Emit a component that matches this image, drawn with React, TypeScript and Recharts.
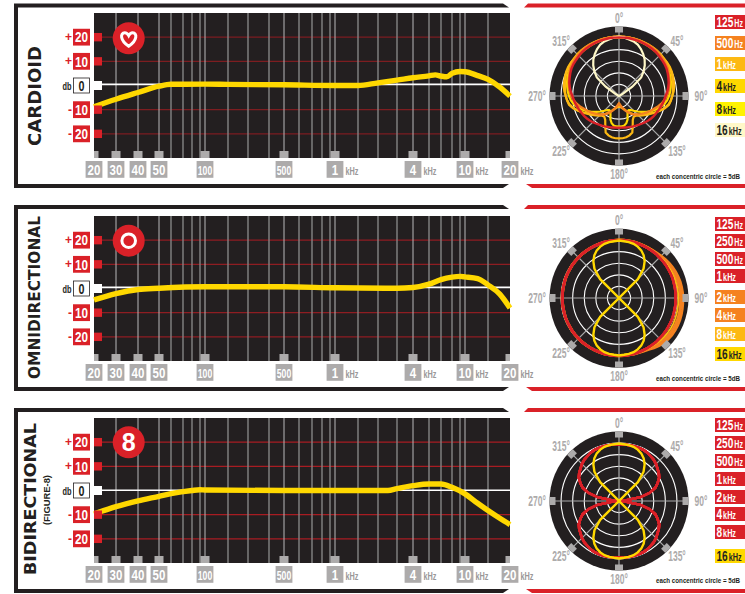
import { LineChart, Line, XAxis, YAxis, ReferenceLine, RadarChart, Radar, PolarGrid, PolarAngleAxis, PolarRadiusAxis } from 'recharts';

const FONT = '"Liberation Sans", sans-serif';
const RED = '#DA2128';
const ORANGE = '#F58220';
const GOLD = '#FDB913';
const YELLOW = '#FFD800';
const LEMON = '#FFF200';
const CREAM = '#FFF8C8';
const GRAY = '#ADABAB';
const DARK = '#231F20';

// frequency axis of the artwork is hand drawn, so hz -> axis units goes through this table
const scaleHz = [20, 30, 40, 50, 60, 70, 80, 90, 100, 200, 300, 400, 500, 600, 700, 800, 900, 1000, 2000, 2500, 3000, 4000, 5000, 6000, 7000, 8000, 10000, 15000, 20000];
const scaleAt = [94, 116, 138, 159, 171, 183, 192, 200, 205, 228, 248, 269, 284, 299, 312, 322, 330, 335, 358, 378, 397, 413, 429, 441, 452, 460, 465, 488, 510];
const labelledHz = [20, 30, 40, 50, 100, 500, 1000, 4000, 10000, 20000];
const tickText = ['20', '30', '40', '50', '100', '500', '1', '4', '10', '20'];
const dbTicks = [20, 10, 0, -10, -20];

const cardioidHz = [20, 30, 40, 50, 60, 100, 200, 500, 1000, 2000, 2500, 3000, 4000, 5000, 5500, 6000, 6500, 7000, 8000, 10000, 12500, 15000, 17500, 20000];
const cardioidDb = [-8.8, -5.7, -2.9, -0.3, 0.5, 0.55, 0.45, 0.3, 0, 0, 1.1, 2.2, 3.2, 4, 4.4, 3.9, 3.6, 5, 5.8, 5.7, 4.1, 2.5, -0.7, -4.4];
const omniHz = [20, 30, 40, 50, 100, 500, 1000, 3000, 4000, 5000, 6000, 7000, 8000, 10000, 12500, 15000, 17500, 20000];
const omniDb = [-4.7, -2.1, -0.4, 0.1, 0.7, 0.7, 0.3, 0.1, 0.4, 1.8, 3.7, 4.7, 5, 4.8, 4.1, 1.5, -2.3, -8.1];
const bidirHz = [20, 30, 40, 50, 60, 80, 90, 100, 500, 2000, 2750, 3000, 4000, 5000, 6000, 7000, 10000, 12500, 15000, 17500, 20000];
const bidirDb = [-9.7, -6.7, -4.3, -2.4, -1.3, 0, 0.3, 0.2, 0, 0, 0, 0.8, 2, 2.7, 2.7, 1.3, -1.4, -5.3, -8.3, -11.5, -14.1];

// polar patterns, dB from centre, 0-180 degrees every 5 degrees on the right hand side
const card125 = [25.3, 25.3, 25.3, 25.2, 25.2, 25.1, 25, 24.9, 24.8, 24.5, 24.2, 24, 23.7, 23.2, 22.7, 22.2, 21.6, 20.9, 20.1, 19.6, 19.1, 18.6, 18.1, 17.7, 17.3, 16.9, 16.5, 16, 15.5, 15.1, 14.8, 14.5, 14.2, 14, 13.8, 13.7, 13.7];
const card500 = [25.6, 25.6, 25.6, 25.6, 25.6, 25.5, 25.5, 25.4, 25.3, 25.1, 24.8, 24.5, 24.2, 23.6, 23, 22.5, 21.9, 21.3, 20.6, 19.7, 18.7, 17.4, 16.1, 15.1, 14.1, 13.1, 12.2, 11.3, 10.4, 9.4, 8.3, 7.2, 6, 5.1, 4.3, 3.6, 3.2];
const card1k = [25.6, 25.6, 25.6, 25.6, 25.6, 25.6, 25.6, 25.6, 25.6, 25.5, 25.3, 25.2, 25, 24.8, 24.5, 24.1, 23.7, 23.4, 23, 22.5, 21.9, 20.5, 18.7, 16.9, 15.1, 13.9, 12.7, 11.5, 10.4, 9.1, 7.9, 6.9, 6, 5.5, 5, 4.7, 4.6];
const card4k = [25.6, 25.6, 25.6, 25.6, 25.5, 25.4, 25.3, 25.3, 25.2, 25.2, 25.2, 25.3, 25.3, 25.1, 24.8, 24.5, 24.2, 23.7, 23, 22.4, 21.6, 20.3, 18.7, 17.1, 15.4, 14.2, 13, 12, 11.1, 11, 11.9, 14, 16.8, 17.6, 18.1, 18.3, 18.3];
const card8k = [25.3, 25.3, 25.2, 25.2, 25.2, 25.1, 25, 24.9, 24.8, 24.7, 24.5, 24.4, 24.2, 24, 23.7, 23.2, 22.7, 22.2, 21.6, 20.9, 19.9, 18.6, 17, 15.4, 13.7, 12, 10.4, 9, 7.9, 7.4, 7.5, 8.7, 10.8, 12.2, 13, 13.2, 13.2];
const card16k = [25.6, 25.4, 24.8, 24.4, 23.6, 22.4, 20.9, 19.3, 17.3, 15, 12.5, 7, 2, 0.5, 0, 0, 0, 0, 0, 0, 0, 0, 0, 0, 0, 0, 0, 0, 0, 0, 0, 0, 0, 0, 0, 0, 0];

const omniRed = [24.9, 24.9, 24.9, 24.9, 24.9, 24.8, 24.8, 24.8, 24.8, 24.7, 24.7, 24.7, 24.6, 24.6, 24.6, 24.5, 24.5, 24.5, 24.5, 24.5, 24.5, 24.5, 24.6, 24.6, 24.6, 24.7, 24.7, 24.7, 24.8, 24.8, 24.8, 24.8, 24.9, 24.9, 24.9, 24.9, 24.9];
const omni2k = [25, 25, 25, 25, 25, 25, 25, 25.1, 25.3, 25.6, 26, 26.3, 26.6, 26.9, 27.1, 27.3, 27.4, 27.5, 27.5, 27.6, 27.7, 27.8, 27.9, 27.9, 27.9, 27.8, 27.6, 27.3, 26.8, 26.2, 25.6, 25.3, 25.1, 25, 24.9, 24.9, 24.9];
const omni4k = [25, 25, 25, 25, 25, 25, 25, 25, 25.1, 25.3, 25.5, 25.8, 26, 26.2, 26.3, 26.4, 26.5, 26.6, 26.6, 26.7, 26.8, 26.9, 26.9, 26.9, 26.9, 26.8, 26.6, 26.4, 26, 25.6, 25.2, 25, 25, 24.9, 24.9, 24.9, 24.9];
const omni8k = [24.9, 24.9, 24.9, 24.9, 24.9, 24.9, 24.9, 24.9, 25, 25, 25.1, 25.2, 25.3, 25.4, 25.5, 25.5, 25.6, 25.6, 25.6, 25.7, 25.7, 25.8, 25.8, 25.9, 25.9, 25.8, 25.7, 25.6, 25.4, 25.2, 25, 24.9, 24.9, 24.9, 24.9, 24.9, 24.9];
const figure16k = [24.8, 24.6, 24.5, 24.2, 23.6, 22.7, 21.3, 19.3, 16.5, 11.5, 0, 0, 0, 0, 0, 0, 0, 0, 0, 0, 0, 0, 0, 0, 0, 0, 0, 11.5, 16.5, 19.3, 21.3, 22.7, 23.6, 24.2, 24.5, 24.6, 24.8];
const figureRed = [24.5, 24.5, 24.5, 24.5, 24.5, 24.5, 24.2, 23.7, 23.3, 22.6, 21.7, 21, 20, 18.4, 16.7, 13.7, 9.4, 2.2, 0.6, 2.2, 9.4, 13.7, 16.7, 18.4, 20, 21, 21.7, 22.6, 23.3, 23.7, 24.2, 24.5, 24.5, 24.5, 24.5, 24.5, 24.3];

const cardioidLegend = ['125|Hz', '500|Hz', '1|kHz', '4|kHz', '8|kHz', '16|kHz'];
const cardioidSwatch = [RED, ORANGE, GOLD, YELLOW, LEMON, CREAM];
const cardioidLegendTop = [15, 36, 57, 79, 102, 123];
const omniLegend = ['125|Hz', '250|Hz', '500|Hz', '1|kHz', '2|kHz', '4|kHz', '8|kHz', '16|kHz'];
const omniSwatch = [RED, RED, RED, RED, ORANGE, ORANGE, GOLD, YELLOW];
const omniLegendTop = [217, 234, 252, 269, 290, 308, 327, 347];
const bidirSwatch = [RED, RED, RED, RED, RED, RED, RED, YELLOW];
const bidirLegendTop = [418, 436, 454, 472, 490, 507, 525, 549];
const angleLabels = [0, 45, 90, 135, 180, 225, 270, 315];

const hzToAxis = (hz: number) => {
  const i = scaleHz.findIndex((h) => h >= hz);
  if (i <= 0) return scaleAt[0];
  const t = Math.log(hz / scaleHz[i - 1]) / Math.log(scaleHz[i] / scaleHz[i - 1]);
  return scaleAt[i - 1] + t * (scaleAt[i] - scaleAt[i - 1]);
};

const mirror = (half: number[]) => [...half, ...half.slice(1, -1).reverse()];

// no condensed face is installed, so squeeze the bold one to the measured width
function Narrow({ width, children, ...rest }: any) {
  return (
    <text fontFamily={FONT} fontWeight="bold" textLength={width} lengthAdjust="spacingAndGlyphs" {...rest}>
      {children}
    </text>
  );
}

function ResponseChart({ top, hz, db, grid, zero }: { top: number; hz: number[]; db: number[]; grid: string; zero: number }) {
  const data = hz.map((h, i) => ({ pos: hzToAxis(h), db: db[i] }));
  const lines = scaleHz.slice(1, -1);
  const xTick = ({ payload }: any) => {
    const i = labelledHz.findIndex((h) => Math.abs(hzToAxis(h) - payload.value) < 0.01);
    const x = payload.value;
    const tabL = Math.max(94, x - 4.5);
    const tabR = Math.min(510, x + 4.5);
    const label = tickText[i];
    return (
      <g>
        <rect x={tabL} y={151} width={tabR - tabL} height={7} fill={GRAY} />
        <rect x={x - 8.4} y={161} width={16.8} height={16.8} fill={GRAY} />
        <Narrow x={x} y={174.6} textAnchor="middle" width={label.length > 2 ? 14.4 : label.length * 6.4} fontSize={label.length > 2 ? 13 : 15} fill="#fff">{label}</Narrow>
        {labelledHz[i] >= 1000 && <Narrow x={x + 10.5} y={174.5} width={13} fontSize={10} fill="#9a9898">kHz</Narrow>}
      </g>
    );
  };
  const yTick = ({ payload, y }: any) => {
    const v = payload.value;
    if (v === 0) {
      return (
        <g>
          <rect x={94} y={y - 4.5} width={8} height={9} fill="#fff" />
          <Narrow x={71.5} y={y + 4} textAnchor="end" width={9} fontSize={11.5} fill={DARK}>db</Narrow>
          <rect x={73.5} y={y - 7.5} width={16} height={15} fill="#fff" stroke={DARK} strokeWidth={0.8} />
          <Narrow x={81.5} y={y + 5} textAnchor="middle" width={6} fontSize={14.5} fill={DARK}>0</Narrow>
        </g>
      );
    }
    return (
      <g>
        <rect x={94} y={y - 4.2} width={8} height={8.4} fill={RED} />
        <text x={72} y={y + 4} textAnchor="end" fontFamily={FONT} fontWeight="bold" fontSize={12} fill={RED}>{v > 0 ? '+' : '-'}</text>
        <rect x={73} y={y - 8.4} width={17} height={16.8} fill={RED} />
        <Narrow x={81.5} y={y + 5.3} textAnchor="middle" width={13} fontSize={15} fill="#fff">{Math.abs(v)}</Narrow>
      </g>
    );
  };
  return (
    <div style={{ position: 'absolute', left: 0, top: top - 13 }}>
      <LineChart width={745} height={190} data={data} margin={{ top: 13, right: 235, bottom: 2, left: 44 }}>
        {dbTicks.filter((v) => v !== 0).map((v) => (
          <ReferenceLine key={v} y={v} stroke={grid} strokeWidth={1.3} />
        ))}
        {lines.map((h) => (
          <ReferenceLine
            key={h}
            x={hzToAxis(h)}
            stroke={labelledHz.includes(h) ? '#b9b9b9' : '#858585'}
            strokeWidth={labelledHz.includes(h) ? 1 : 1.4}
          />
        ))}
        <ReferenceLine y={zero} stroke="#fff" strokeWidth={1.6} />
        <XAxis
          dataKey="pos"
          type="number"
          domain={[94, 510]}
          ticks={labelledHz.map(hzToAxis)}
          interval={0}
          height={30}
          axisLine={false}
          tickLine={false}
          tick={xTick}
        />
        <YAxis type="number" domain={[-30, 30]} ticks={dbTicks} interval={0} width={50} axisLine={false} tickLine={false} tick={yTick} />
        <Line dataKey="db" type="monotone" stroke={YELLOW} strokeWidth={5.4} dot={false} isAnimationActive={false} />
      </LineChart>
    </div>
  );
}

const POLAR_SIZE = 240;
const POLAR_R = 69.5;

function PolarChart({ cy, series }: { cy: number; series: { key: string; values: number[]; color: string; width: number }[] }) {
  const n = series[0].values.length;
  const data = Array.from({ length: n }, (_, i) => {
    const row: Record<string, number> = { angle: (i * 360) / n };
    series.forEach((s) => {
      row[s.key] = s.values[i];
    });
    return row;
  });
  const c = POLAR_SIZE / 2;
  const angleTick = ({ payload }: any) => {
    const a = payload.value as number;
    if (!angleLabels.includes(a)) return <g />;
    const rad = (a * Math.PI) / 180;
    const tx = c + 66.5 * Math.sin(rad);
    const ty = c - 66.5 * Math.cos(rad);
    const label = String(a);
    return (
      <g>
        <rect x={tx - 4} y={ty - 3} width={8} height={6} fill={GRAY} transform={`rotate(${a} ${tx} ${ty})`} />
        <Narrow x={c + 82 * Math.sin(rad)} y={c - 78 * Math.cos(rad) + 5} textAnchor="middle" width={label.length * 4.7 + 3.5} fontSize={14} fill={GRAY}>
          {label}°
        </Narrow>
      </g>
    );
  };
  const step = POLAR_R / 6;
  return (
    <div style={{ position: 'absolute', left: 619 - c, top: cy - c }}>
      <RadarChart width={POLAR_SIZE} height={POLAR_SIZE} cx={c} cy={c} outerRadius={POLAR_R} data={data} margin={{ top: 0, right: 0, bottom: 0, left: 0 }}>
        <PolarGrid gridType="circle" radialLines={false} polarRadius={[step, step * 2, step * 3, step * 4, step * 5]} polarAngles={[]} stroke="#fff" strokeWidth={1.1} />
        <PolarGrid gridType="circle" polarRadius={[]} polarAngles={angleLabels} stroke="#a9a9a9" strokeWidth={1.2} />
        <PolarAngleAxis dataKey="angle" type="category" axisLine={false} tickLine={false} tick={angleTick} />
        <PolarRadiusAxis domain={[0, 30]} axisLine={false} tick={false} tickLine={false} />
        {series.map((s) => (
          <Radar key={s.key} dataKey={s.key} stroke={s.color} strokeWidth={s.width} fill="none" dot={false} isAnimationActive={false} />
        ))}
      </RadarChart>
    </div>
  );
}

function Legend({ labels, colors, tops }: { labels: string[]; colors: string[]; tops: number[] }) {
  return (
    <g>
      {labels.map((l, i) => {
        const [num, unit] = l.split('|');
        const dark = colors[i] === YELLOW || colors[i] === LEMON || colors[i] === CREAM;
        const numWidth = num.length * 5.6;
        return (
          <g key={l}>
            <rect x={715} y={tops[i]} width={30} height={14} fill={colors[i]} />
            <Narrow x={716.5} y={tops[i] + 12} width={numWidth} fontSize={15} fill={dark ? DARK : '#fff'}>{num}</Narrow>
            <Narrow x={716.5 + numWidth + 1} y={tops[i] + 12} width={unit.length * 4.3} fontSize={10.5} fill={dark ? DARK : '#fff'}>{unit}</Narrow>
          </g>
        );
      })}
    </g>
  );
}

function Frame({ top, bottom }: { top: number; bottom: number }) {
  return (
    <g>
      <path d={`M14 ${top} H503 L509 ${top + 4} H18 V${bottom - 4} H509 L503 ${bottom} H14 Z`} fill={DARK} />
      <path d={`M528 ${top} H745 V${top + 4} H524 Z`} fill={RED} />
      <path d={`M526 ${bottom - 4} H745 V${bottom} H532 Z`} fill={RED} />
    </g>
  );
}

const badge = (cy: number) => <circle cx={128.7} cy={cy} r={16} fill={RED} />;

function Title({ text, x, y0, y1, size }: { text: string; x: number; y0: number; y1: number; size: number }) {
  const mid = (y0 + y1) / 2;
  return (
    <text
      x={x}
      y={mid}
      transform={`rotate(-90 ${x} ${mid})`}
      textAnchor="middle"
      fontFamily="DejaVu Sans"
      fontWeight="bold"
      fontSize={size}
      fill={DARK}
      textLength={y1 - y0}
      lengthAdjust="spacingAndGlyphs"
    >
      {text}
    </text>
  );
}

const plotRect = (y: number) => <rect x={94} y={y} width={416} height={145} fill={DARK} />;
const disk = (cy: number) => <circle cx={619} cy={cy} r={POLAR_R} fill={DARK} />;

export default function App() {
  const cardioidSeries = [
    { key: '4k', values: mirror(card4k), color: GOLD, width: 2.2 },
    { key: '8k', values: mirror(card8k), color: YELLOW, width: 2.2 },
    { key: '1k', values: mirror(card1k), color: GOLD, width: 2.2 },
    { key: '500', values: mirror(card500), color: ORANGE, width: 2.4 },
    { key: '16k', values: mirror(card16k), color: CREAM, width: 2.2 },
    { key: '125', values: mirror(card125), color: RED, width: 2.4 },
  ];
  const omniLeft = omniRed.slice(1, -1).reverse();
  const omniSeries = [
    { key: '2k', values: [...omni2k, ...omniLeft], color: ORANGE, width: 3 },
    { key: '4k', values: [...omni4k, ...omniLeft], color: ORANGE, width: 3 },
    { key: '8k', values: [...omni8k, ...omniLeft], color: GOLD, width: 1.8 },
    { key: '125', values: mirror(omniRed), color: RED, width: 2.4 },
    { key: '250', values: mirror(omniRed), color: RED, width: 2.4 },
    { key: '500', values: mirror(omniRed), color: RED, width: 2.4 },
    { key: '1k', values: mirror(omniRed), color: RED, width: 2.4 },
    { key: '16k', values: mirror(figure16k), color: YELLOW, width: 2.4 },
  ];
  const bidirSeries = [
    ...['125', '250', '500', '1k', '2k', '4k', '8k'].map((key) => ({ key, values: mirror(figureRed), color: RED, width: 2.4 })),
    { key: '16k', values: mirror(figure16k), color: YELLOW, width: 2.4 },
  ];
  const note = 'each concentric circle = 5dB';
  return (
    <div style={{ position: 'absolute', left: 0, top: 0, width: 745, height: 594, background: '#fff', overflow: 'hidden' }}>
      <svg width={745} height={594} style={{ position: 'absolute', left: 0, top: 0 }}>
        <Frame top={3.5} bottom={188} />
        <Frame top={205} bottom={391} />
        <Frame top={408} bottom={593} />
        {plotRect(13)}
        {plotRect(216)}
        {plotRect(418)}
        {disk(96)}
        {disk(298.3)}
        {disk(501)}
      </svg>

      <ResponseChart top={13} hz={cardioidHz} db={cardioidDb} grid="#7d1d20" zero={0.45} />
      <ResponseChart top={216} hz={omniHz} db={omniDb} grid="#8f1d22" zero={0.45} />
      <ResponseChart top={418} hz={bidirHz} db={bidirDb} grid="#a81c22" zero={0.1} />

      <PolarChart cy={96} series={cardioidSeries} />
      <PolarChart cy={298.3} series={omniSeries} />
      <PolarChart cy={501} series={bidirSeries} />

      <svg width={745} height={594} style={{ position: 'absolute', left: 0, top: 0, pointerEvents: 'none' }}>
        <Title text="CARDIOID" x={41} y0={46} y1={146} size={17} />
        <Title text="OMNIDIRECTIONAL" x={39.5} y0={216} y1={379} size={15} />
        <Title text="BIDIRECTIONAL" x={36} y0={423} y1={575} size={15.5} />
        <Narrow x={50} y={500} transform="rotate(-90 50 500)" textAnchor="middle" fontSize={9.5} fill={DARK} width={50}>(FIGURE-8)</Narrow>

        {badge(38.3)}
        <path d="M0 7.5 C-9 1.5 -8.5 -6 -4 -6 C-2 -6 -1 -5 0 -3.2 C1 -5 2 -6 4 -6 C8.5 -6 9 1.5 0 7.5 Z" transform="translate(128.7 38.8)" fill="none" stroke="#fff" strokeWidth={3} />
        {badge(240.7)}
        <circle cx={128.7} cy={240.7} r={6.8} fill="none" stroke="#fff" strokeWidth={3} />
        {badge(442.3)}
        <text x={128.7} y={451} textAnchor="middle" fontFamily={FONT} fontWeight="bold" fontSize={25} fill="#fff">8</text>

        <Legend labels={cardioidLegend} colors={cardioidSwatch} tops={cardioidLegendTop} />
        <Legend labels={omniLegend} colors={omniSwatch} tops={omniLegendTop} />
        <Legend labels={omniLegend} colors={bidirSwatch} tops={bidirLegendTop} />

        <Narrow x={656} y={178.5} width={84} fontSize={7.5} fill={DARK}>{note}</Narrow>
        <Narrow x={656} y={380.5} width={84} fontSize={7.5} fill={DARK}>{note}</Narrow>
        <Narrow x={656} y={582.5} width={84} fontSize={7.5} fill={DARK}>{note}</Narrow>
      </svg>
    </div>
  );
}
